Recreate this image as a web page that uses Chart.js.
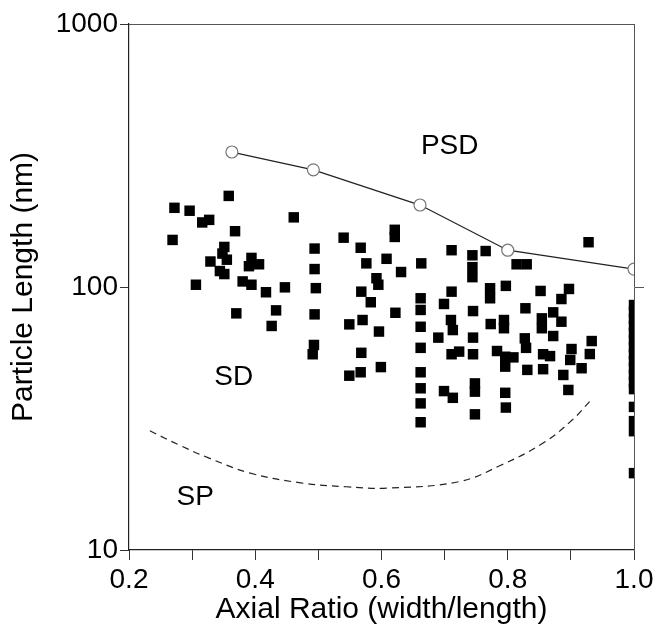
<!DOCTYPE html>
<html>
<head>
<meta charset="utf-8">
<script src="https://cdn.jsdelivr.net/npm/chart.js@4.4.1/dist/chart.umd.min.js"></script>
<style>
  html, body { margin: 0; padding: 0; background: #fff; }
</style>
</head>
<body>
<canvas id="chart" width="654" height="628"></canvas>
<script>
// measured particles (black squares)
const sqX = [
  0.358, 0.272, 0.296, 0.316, 0.327, 0.368, 0.269, 0.351, 0.348, 0.355,
  0.329, 0.394, 0.390, 0.406, 0.344, 0.351, 0.306, 0.380, 0.394, 0.417,
  0.447, 0.433, 0.370, 0.426, 0.461, 0.494, 0.494, 0.496, 0.494, 0.493,
  0.491, 0.540, 0.567, 0.576, 0.608, 0.621, 0.621, 0.592, 0.595, 0.631,
  0.568, 0.583, 0.622, 0.570, 0.549, 0.596, 0.568, 0.599, 0.567, 0.549,
  0.663, 0.662, 0.662, 0.662, 0.662, 0.662, 0.662, 0.662, 0.662,
  0.711, 0.744, 0.744, 0.744, 0.765, 0.814, 0.830, 0.711, 0.772, 0.772,
  0.797, 0.852, 0.699, 0.745, 0.828, 0.710, 0.713, 0.773, 0.794, 0.794,
  0.854, 0.854, 0.690, 0.745, 0.827, 0.711, 0.723, 0.745, 0.829, 0.783,
  0.796, 0.809, 0.796, 0.831, 0.856, 0.867, 0.856, 0.699, 0.713, 0.748,
  0.748, 0.796, 0.797, 0.748, 0.928, 0.897, 0.885, 0.872, 0.885, 0.872,
  0.933, 0.901, 0.930, 0.899, 0.917, 0.888, 0.896,
  1.0, 1.0, 1.0, 1.0, 1.0, 1.0, 1.0, 1.0, 1.0, 1.0, 1.0, 1.0, 1.0, 1.0, 1.0, 1.0, 1.0
];
const sqY = [
  222, 200, 195, 176, 180, 163, 151, 142, 134, 127,
  125, 129, 120, 122, 115, 112, 102, 105, 102, 95.5,
  99.7, 81.5, 79.4, 71.1, 184, 140, 117, 99, 78.7, 60.2,
  55.5, 154, 141, 123, 128, 165, 155, 108, 102, 114,
  96, 87.5, 79.8, 74.9, 72.1, 67.7, 56.2, 49.6, 47.4, 46.0,
  123, 90.6, 81.8, 70.6, 58.7, 47.4, 41.2, 36.1, 30.6,
  138, 132, 119, 109, 137, 122, 122, 96, 98.9, 90.6,
  101, 96.6, 86.2, 81.0, 83.0, 74.9, 68.6, 72.3, 74.9, 69.7,
  76.0, 69.7, 64.2, 64.2, 63.8, 55.5, 56.8, 55.5, 58.7, 57.1,
  54.3, 54.0, 49.8, 48.4, 55.5, 54.6, 48.7, 40.2, 37.9, 43.0,
  40.0, 39.6, 34.8, 32.8, 148, 98.3, 90.0, 80.1, 73.8, 65.1,
  62.3, 58.1, 55.6, 52.8, 49.1, 46.3, 40.6,
  85.4, 80.4, 75.6, 71.1, 66.9, 62.9, 59.1, 55.6, 52.3, 49.2, 46.3, 43.5, 40.9, 35.0, 30.9, 28.3, 19.6
];

// PSD boundary (open circles)
const psdX = [0.363, 0.492, 0.661, 0.80, 1.0];
const psdY = [326, 279, 205, 138, 117];

// SP / SD boundary (dashed)
const spX = [0.233, 0.279, 0.326, 0.392, 0.472, 0.544, 0.61, 0.723, 0.789, 0.856, 0.902, 0.932];
const spY = [28.4, 25.1, 22.4, 19.6, 18.0, 17.4, 17.2, 18.2, 21.0, 25.5, 31.2, 37.2];

const yTicks = [10, 100, 1000];

const regionLabels = [
  { text: 'PSD', x: 0.708, y: 344 },
  { text: 'SD', x: 0.366, y: 45.5 },
  { text: 'SP', x: 0.305, y: 15.9 }
];

const toPoints = (xs, ys) => xs.map((x, i) => ({ x: x, y: ys[i] }));

Chart.defaults.font.family = '"Liberation Sans", Arial, sans-serif';
Chart.defaults.color = '#000';

const frameAndLabels = {
  id: 'frameAndLabels',
  afterDatasetsDraw(chart) {
    const { ctx, chartArea, scales } = chart;
    ctx.save();
    ctx.strokeStyle = '#555';
    ctx.lineWidth = 1;
    ctx.beginPath();
    ctx.moveTo(chartArea.left, chartArea.top + 0.5);
    ctx.lineTo(chartArea.right, chartArea.top + 0.5);
    ctx.stroke();

    ctx.fillStyle = '#000';
    ctx.font = '28px "Liberation Sans", Arial, sans-serif';
    ctx.textAlign = 'center';
    ctx.textBaseline = 'middle';
    regionLabels.forEach(l => {
      ctx.fillText(l.text, scales.x.getPixelForValue(l.x), scales.y.getPixelForValue(l.y));
    });
    ctx.restore();
  }
};

new Chart(document.getElementById('chart'), {
  type: 'scatter',
  data: {
    datasets: [
      {
        data: toPoints(psdX, psdY),
        showLine: true,
        borderColor: '#222',
        borderWidth: 1.3,
        pointStyle: 'circle',
        pointRadius: 6,
        pointBackgroundColor: '#fff',
        pointBorderColor: '#777',
        pointBorderWidth: 1.2
      },
      {
        data: toPoints(spX, spY),
        showLine: true,
        borderColor: '#222',
        borderWidth: 1.2,
        borderDash: [7, 5],
        tension: 0.4,
        pointRadius: 0
      },
      {
        data: toPoints(sqX, sqY),
        pointStyle: 'rect',
        pointRadius: 7.4,
        pointBackgroundColor: '#000',
        pointBorderWidth: 0
      }
    ]
  },
  options: {
    responsive: false,
    animation: false,
    layout: { padding: { top: 24, right: 0, bottom: 0, left: 0 } },
    plugins: { legend: { display: false }, tooltip: { enabled: false } },
    scales: {
      x: {
        type: 'linear',
        position: 'bottom',
        min: 0.2,
        max: 1.0,
        ticks: {
          stepSize: 0.1,
          autoSkip: false,
          maxRotation: 0,
          padding: 3,
          font: { size: 28 },
          color: '#000',
          callback: v => (Math.round(v * 10) % 2 === 0 ? v.toFixed(1) : '')
        },
        grid: { drawOnChartArea: false, tickLength: 10, color: '#333' },
        border: { color: '#222', width: 1.2 },
        title: { display: true, text: 'Axial Ratio (width/length)', font: { size: 30 }, color: '#000', padding: 0 },
        afterFit: s => { s.height = 78; s.paddingLeft = 0; s.paddingRight = 0; }
      },
      y: {
        type: 'logarithmic',
        position: 'left',
        min: 10,
        max: 1000,
        afterBuildTicks: s => { s.ticks = yTicks.map(v => ({ value: v })); },
        ticks: { padding: 2, font: { size: 28 }, color: '#000', callback: v => String(v) },
        grid: { drawOnChartArea: false, tickLength: 9, color: '#333' },
        border: { color: '#222', width: 1.2 },
        title: { display: true, text: 'Particle Length (nm)', font: { size: 30 }, color: '#000', padding: { top: 6, bottom: 0 } },
        afterFit: s => { s.width = 129; s.paddingTop = 0; s.paddingBottom = 0; }
      },
      y2: {
        type: 'logarithmic',
        position: 'right',
        min: 10,
        max: 1000,
        afterBuildTicks: s => { s.ticks = [{ value: 100 }]; },
        ticks: { display: false },
        grid: { drawOnChartArea: false, tickLength: 10, color: '#555' },
        border: { color: '#555', width: 1 },
        afterFit: s => { s.width = 20; }
      }
    }
  },
  plugins: [frameAndLabels]
});
</script>
</body>
</html>
